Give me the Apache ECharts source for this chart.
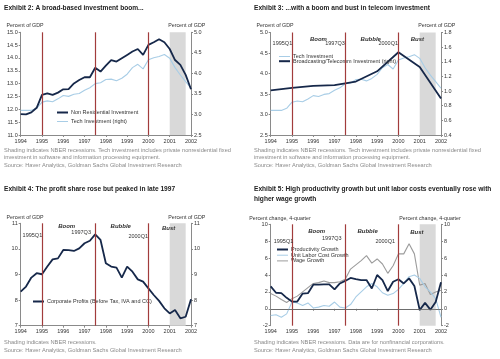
<!DOCTYPE html>
<html><head><meta charset="utf-8">
<script src="https://cdn.jsdelivr.net/npm/echarts@6/dist/echarts.min.js"></script>
<style>html,body{margin:0;padding:0;background:#fff}#c{width:500px;height:359px}</style>
</head><body><div id="c"></div>
<script>
// ---- data ----
const quarterLabels = ['1994Q1','1994Q2','1994Q3','1994Q4','1995Q1','1995Q2','1995Q3','1995Q4','1996Q1','1996Q2','1996Q3','1996Q4','1997Q1','1997Q2','1997Q3','1997Q4','1998Q1','1998Q2','1998Q3','1998Q4','1999Q1','1999Q2','1999Q3','1999Q4','2000Q1','2000Q2','2000Q3','2000Q4','2001Q1','2001Q2','2001Q3','2001Q4','2002Q1'];
const xTicks = [1994,1995,1996,1997,1998,1999,2000,2001,2002];
const nonResInvestment = [11.81,11.80,11.88,12.06,12.56,12.62,12.56,12.65,12.78,12.79,13.01,13.14,13.25,13.25,13.62,13.47,13.70,13.92,13.86,13.99,14.12,14.25,14.35,14.12,14.51,14.61,14.73,14.61,14.35,13.92,13.73,13.34,12.78];
const techInvestment = [3.10,3.10,3.10,3.15,3.30,3.33,3.31,3.38,3.46,3.44,3.49,3.51,3.59,3.65,3.75,3.77,3.85,3.86,3.82,3.88,3.98,4.14,4.22,4.11,4.33,4.38,4.41,4.46,4.37,4.14,3.96,3.80,3.64];
const telecomYears = [1994,1995,1996,1997,1998,1999,2000,2001,2002];
const telecomInvestment = [1.01,1.045,1.07,1.08,1.13,1.27,1.53,1.33,0.90];
const corporateProfits = [8.33,8.53,8.88,9.05,9.01,9.31,9.59,9.63,9.96,9.95,9.92,10.02,10.22,10.32,10.57,10.35,9.44,9.31,9.27,8.88,9.31,9.11,8.81,8.72,8.46,8.20,7.97,7.68,7.48,7.61,7.29,7.35,8.03];
const productivityGrowth = [2.65,1.9,1.85,1.3,0.85,0.85,1.8,1.85,2.85,2.85,2.9,2.9,2.3,3.0,3.3,3.65,3.5,3.4,3.4,2.4,4.0,3.4,2.1,3.2,3.5,3.0,3.6,2.7,-0.15,0.7,-0.1,0.8,3.15];
const unitLaborCostGrowth = [-0.8,-0.7,-1.0,-0.6,0.8,0.7,0.4,0.7,0.1,0.2,0.4,0.3,0.8,0.2,0.1,0.5,1.4,2.0,2.6,3.0,2.6,1.9,1.6,1.8,2.3,3.0,3.8,4.0,3.6,2.6,2.0,1.2,-1.0];
const wageGrowth = [1.8,1.5,1.1,0.75,1.2,1.5,2.0,2.5,3.0,3.1,3.3,3.1,3.1,3.2,3.5,4.7,5.2,5.7,6.3,5.4,5.9,5.3,4.2,5.1,6.5,6.5,7.7,6.5,2.8,3.0,1.7,2.0,2.2];
const eventDates = [1995, 1997.5, 2000];
const recession = [2001, 2001.75];

// quarter label -> decimal year
const qx = quarterLabels.map(q => +q.slice(0,4) + (+q.slice(5) - 1) / 4);
const pairs = (xs, ys) => xs.map((x, i) => [x, ys[i]]);

const NAVY = '#16284a', LIGHT = '#a8cde6', GRAY = '#9c9c9c', RED = '#a23c3c', SHADE = '#d9d9d9';
const FONT = 'Liberation Sans';

function xAxis(g) {
  return { gridIndex: g, type: 'value', min: 1994, max: 2002, interval: 1,
    axisLine: { show: true, lineStyle: { color: '#8a8a8a', width: 1 } },
    axisTick: { show: true, length: 2, lineStyle: { color: '#8a8a8a' } },
    axisLabel: { fontSize: 5.5, color: '#333', margin: 3, fontFamily: FONT, formatter: v => String(v) },
    splitLine: { show: false } };
}
function yAxis(g, pos, min, max, interval, dec) {
  return { gridIndex: g, type: 'value', position: pos, min, max, interval,
    axisLine: { show: true, onZero: false, lineStyle: { color: '#8a8a8a', width: 1 } },
    axisTick: { show: true, length: 2, lineStyle: { color: '#8a8a8a' } },
    axisLabel: { fontSize: 5.5, color: '#333', margin: 3, fontFamily: FONT, formatter: v => v.toFixed(dec) },
    splitLine: { show: false } };
}
function marks(labels, zero) {
  const lines = eventDates.map(d => ({ xAxis: d }));
  if (zero) lines.push({ yAxis: 0, lineStyle: { color: '#666', width: 0.8 } });
  return {
    markLine: { silent: true, symbol: 'none', label: { show: false },
      lineStyle: { color: RED, width: 1.2, type: 'solid' }, data: lines },
    markArea: { silent: true, itemStyle: { color: SHADE }, data: [[{ xAxis: recession[0] }, { xAxis: recession[1] }]] },
    markPoint: { silent: true, symbol: 'circle', symbolSize: 0,
      data: labels.map(l => ({ name: l[0], coord: [l[1], l[2]],
        label: { show: true, formatter: '{b}', position: 'inside', color: '#333', fontFamily: FONT,
          fontSize: l[3] ? 6 : 5.5, fontStyle: l[3] ? 'italic' : 'normal', fontWeight: l[3] ? 'bold' : 'normal' } })) }
  };
}
const grids = [
  { left: 20.7, top: 32.3, width: 170.3, height: 102.7 },
  { left: 270.7, top: 32.5, width: 170.3, height: 102.5 },
  { left: 20.7, top: 223.3, width: 170.3, height: 102.4 },
  { left: 270.7, top: 224.3, width: 170.3, height: 101.4 }
];
const lineS = (name, data, xi, yi, color, w, extra) => Object.assign({ name, type: 'line', xAxisIndex: xi, yAxisIndex: yi,
  data, symbol: 'none', showSymbol: false, lineStyle: { color, width: w }, itemStyle: { color }, animation: false }, extra || {});

const series = [
  lineS('Tech Investment (right)', pairs(qx, techInvestment), 0, 1, LIGHT, 1.1,
    marks([['Boom',1996.24,14.9,1],['Bubble',1998.77,14.9,1],['Bust',2000.87,14.9,1],['1995Q1',1994.45,14.58],['1997Q3',1996.8,14.58],['2000Q1',1999.49,14.58]])),
  lineS('Non Residential Investment', pairs(qx, nonResInvestment), 0, 0, NAVY, 1.8),
  lineS('Tech Investment', pairs(qx, techInvestment), 1, 2, LIGHT, 1.1,
    marks([['Boom',1996.24,4.84,1],['Bubble',1998.7,4.84,1],['Bust',2000.89,4.84,1],['1995Q1',1994.55,4.74],['1997Q3',1997.02,4.74],['2000Q1',1999.52,4.74]])),
  lineS('Broadcasting/Telecomm Investment (right)', pairs(telecomYears, telecomInvestment), 1, 3, NAVY, 1.8),
  lineS('Corporate Profits (Before Tax, IVA and CC)', pairs(qx, corporateProfits), 2, 4, NAVY, 1.8,
    marks([['Boom',1996.16,10.9,1],['Bubble',1998.7,10.9,1],['Bust',2000.95,10.8,1],['1995Q1',1994.55,10.52],['1997Q3',1996.84,10.65],['2000Q1',1999.52,10.5]])),
  lineS('Wage Growth', pairs(qx, wageGrowth), 3, 6, GRAY, 1.1,
    marks([['Boom',1996.16,9.12,1],['Bubble',1998.55,9.12,1],['Bust',2000.87,9.1,1],['1995Q1',1994.6,8.02],['1997Q3',1996.87,8.34],['2000Q1',1999.38,8.02]], true)),
  lineS('Unit Labor Cost Growth', pairs(qx, unitLaborCostGrowth), 3, 6, LIGHT, 1.1),
  lineS('Productivity Growth', pairs(qx, productivityGrowth), 3, 6, NAVY, 1.8)
];

const THICK = 'path://M0 0H11V2H0Z', THIN = 'path://M0 0H11V1H0Z';
const li = (name, thick) => ({ name, icon: thick ? THICK : THIN });
const legendBase = { orient: 'vertical', itemWidth: 11, itemHeight: 4, selectedMode: false,
  textStyle: { fontSize: 5.5, color: '#333', fontFamily: FONT, padding: [0,0,0,-2] }, padding: 0 };
const legends = [
  Object.assign({}, legendBase, { left: 57, top: 109.5, itemGap: 3, data: [li('Non Residential Investment', 1), li('Tech Investment (right)')] }),
  Object.assign({}, legendBase, { left: 279, top: 53.5, itemGap: -1.3, data: [li('Tech Investment'), li('Broadcasting/Telecomm Investment (right)', 1)] }),
  Object.assign({}, legendBase, { left: 33, top: 298.5, itemGap: 3, data: [li('Corporate Profits (Before Tax, IVA and CC)', 1)] }),
  Object.assign({}, legendBase, { left: 277, top: 246.5, itemGap: -0.3, data: [li('Productivity Growth', 1), li('Unit Labor Cost Growth'), li('Wage Growth')] })
];

function txt(text, x, y, opts) {
  return { type: 'text', x, y, silent: true, style: Object.assign({ text, fill: '#8a8a8a', font: '5.7px "' + FONT + '"',
    textAlign: 'left', textVerticalAlign: 'middle', verticalAlign: 'middle' }, opts || {}) };
}
const TITLE = { fill: '#222', font: 'bold 6.6px "' + FONT + '"' };
const AXN = (a) => ({ fill: '#333', font: '5.3px "' + FONT + '"', textAlign: a || 'center' });
const graphics = [
  txt('Exhibit 2: A broad-based investment boom...', 4, 8, TITLE),
  txt('Exhibit 3: ...with a boom and bust in telecom investment', 254, 8, TITLE),
  txt('Exhibit 4: The profit share rose but peaked in late 1997', 4, 189, TITLE),
  txt('Exhibit 5: High productivity growth but unit labor costs eventually rose with', 254, 189, TITLE),
  txt('higher wage growth', 254, 199, TITLE),
  txt('Shading indicates NBER recessions. Tech investment includes private nonresidential fixed', 4, 150),
  txt('investment in software and information processing equipment.', 4, 157),
  txt('Source: Haver Analytics, Goldman Sachs Global Investment Research', 4, 165.7),
  txt('Shading indicates NBER recessions. Tech investment includes private nonresidential fixed', 254, 150),
  txt('investment in software and information processing equipment.', 254, 157),
  txt('Source: Haver Analytics, Goldman Sachs Global Investment Research', 254, 165.7),
  txt('Shading indicates NBER recessions.', 4, 342),
  txt('Source: Haver Analytics, Goldman Sachs Global Investment Research', 4, 350),
  txt('Shading indicates NBER recessions. Data are for nonfinancial corporations.', 254, 342),
  txt('Source: Haver Analytics, Goldman Sachs Global Investment Research', 254, 350),
  txt('Percent of GDP', 25, 25.3, AXN()), txt('Percent of GDP', 186.7, 25.3, AXN()),
  txt('Percent of GDP', 275, 25.3, AXN()), txt('Percent of GDP', 436.7, 25.3, AXN()),
  txt('Percent of GDP', 25, 217.7, AXN()), txt('Percent of GDP', 186.7, 217.7, AXN()),
  txt('Percent change, 4-quarter', 280, 218.7, AXN()), txt('Percent change, 4-quarter', 430, 218.7, AXN())
];

const chart = echarts.init(document.getElementById('c'), null, { renderer: 'canvas' });
chart.setOption({
  animation: false,
  backgroundColor: '#fff',
  grid: grids,
  xAxis: [xAxis(0), xAxis(1), xAxis(2), xAxis(3)],
  yAxis: [
    yAxis(0, 'left', 11, 15, 0.5, 1), yAxis(0, 'right', 2.5, 5, 0.5, 1),
    yAxis(1, 'left', 2.5, 5, 0.5, 1), yAxis(1, 'right', 0.4, 1.8, 0.2, 1),
    yAxis(2, 'left', 7, 11, 1, 0), yAxis(2, 'right', 7, 11, 1, 0),
    yAxis(3, 'left', -2, 10, 2, 0), yAxis(3, 'right', -2, 10, 2, 0)
  ],
  legend: legends,
  series,
  graphic: graphics
});
</script></body></html>
